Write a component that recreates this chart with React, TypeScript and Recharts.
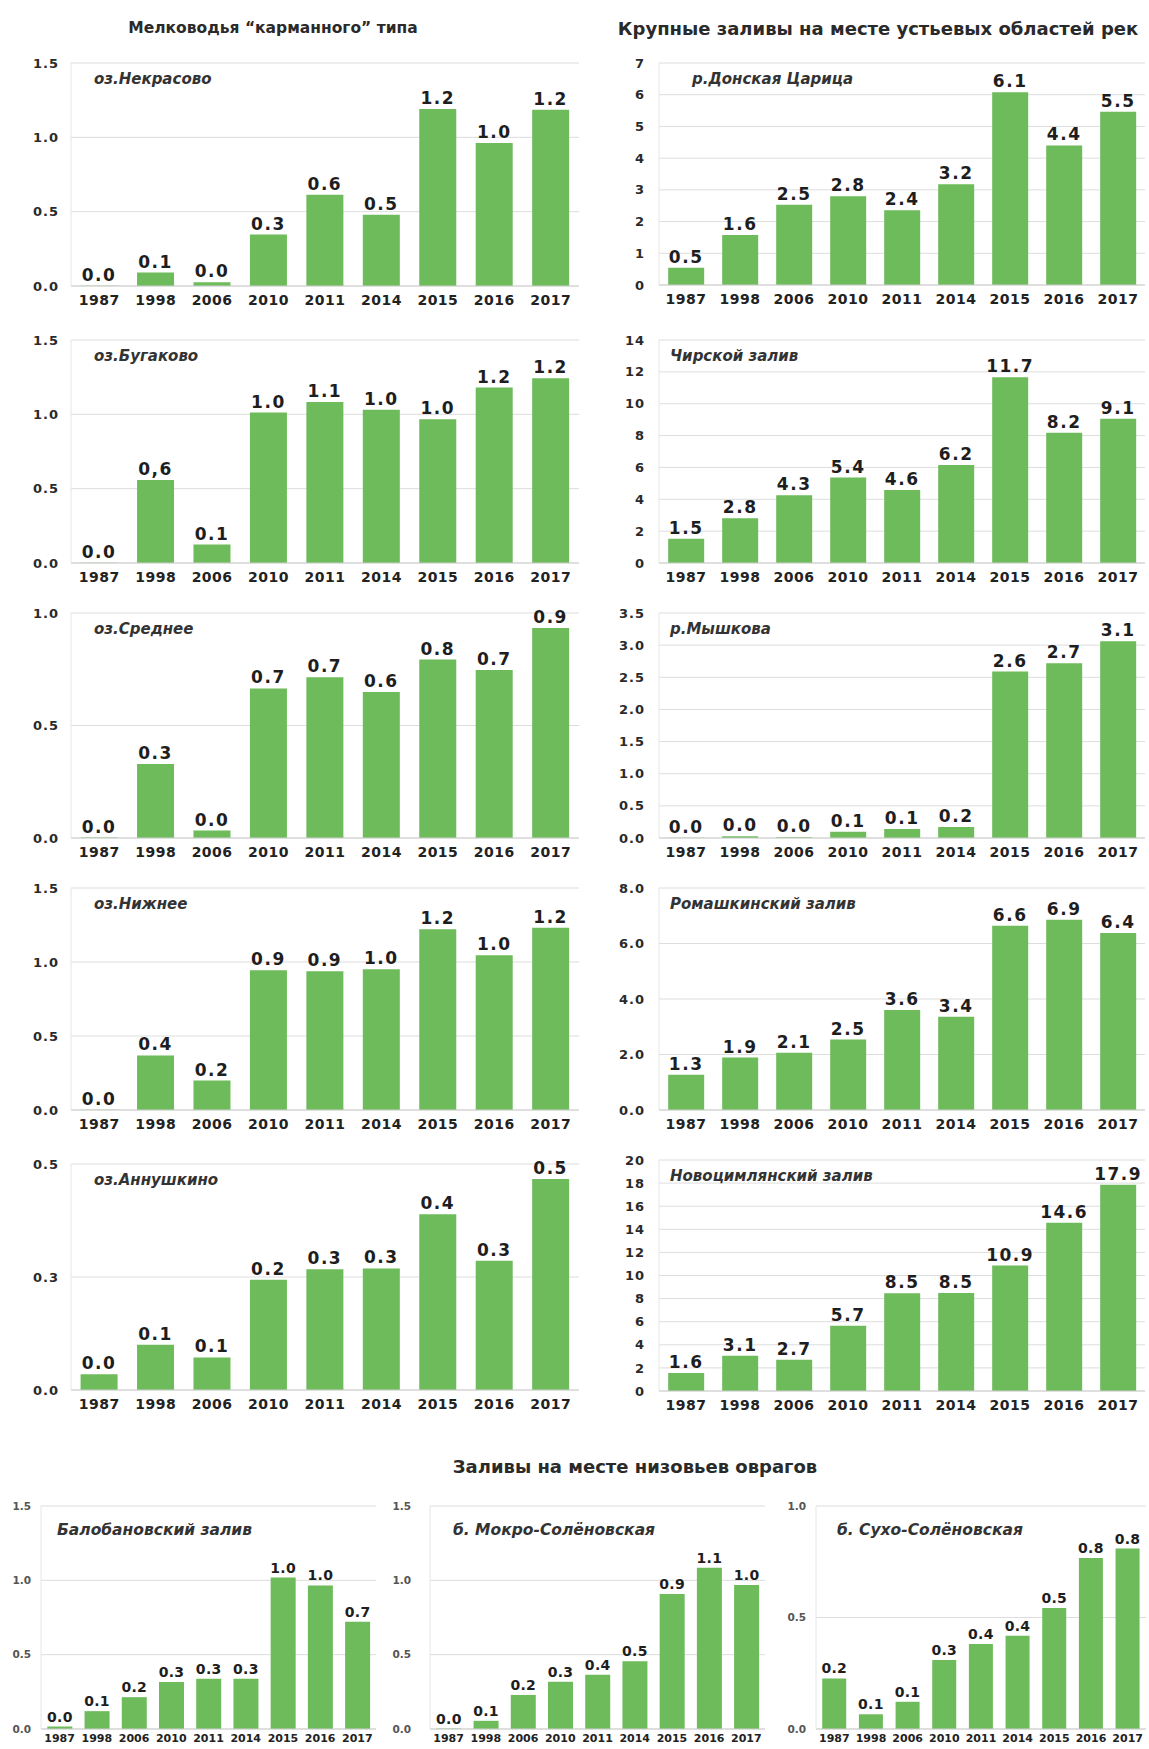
import React from 'react';
import { BarChart, Bar, XAxis, YAxis, CartesianGrid, LabelList } from 'recharts';

const YEARS = ['1987', '1998', '2006', '2010', '2011', '2014', '2015', '2016', '2017'];

// Мелководья "карманного" типа
const nekrasovo = [0.002, 0.09, 0.025, 0.346, 0.614, 0.48, 1.19, 0.962, 1.185];
const bugakovo = [0.002, 0.559, 0.124, 1.012, 1.083, 1.03, 0.967, 1.18, 1.243];
const bugakovoLabels = ['0.0', '0,6', '0.1', '1.0', '1.1', '1.0', '1.0', '1.2', '1.2'];
const srednee = [0.002, 0.329, 0.033, 0.665, 0.714, 0.649, 0.793, 0.747, 0.933];
const nizhnee = [0.002, 0.369, 0.199, 0.945, 0.938, 0.951, 1.222, 1.045, 1.231];
const annushkino = [0.035, 0.1, 0.072, 0.244, 0.267, 0.269, 0.389, 0.286, 0.467];

// Крупные заливы на месте устьевых областей рек
const donskaya = [0.54, 1.58, 2.53, 2.8, 2.36, 3.18, 6.08, 4.4, 5.46];
const chirskoy = [1.52, 2.81, 4.26, 5.36, 4.58, 6.16, 11.66, 8.18, 9.06];
const myshkova = [0.004, 0.026, 0.01, 0.099, 0.14, 0.171, 2.59, 2.72, 3.06];
const romashkinsky = [1.27, 1.89, 2.06, 2.54, 3.6, 3.36, 6.64, 6.86, 6.38];
const novotsimlyansky = [1.56, 3.06, 2.7, 5.66, 8.46, 8.48, 10.86, 14.56, 17.86];

// Заливы на месте низовьев оврагов
const balobanovsky = [0.016, 0.12, 0.214, 0.316, 0.338, 0.338, 1.019, 0.966, 0.721];
const mokro = [0.003, 0.055, 0.229, 0.318, 0.365, 0.455, 0.908, 1.085, 0.969];
const sukho = [0.227, 0.066, 0.122, 0.309, 0.381, 0.418, 0.543, 0.767, 0.809];

// y-axis ticks
const ticks15 = [0, 0.5, 1, 1.5];
const ticks10 = [0, 0.5, 1];
const ticks05 = [0, 0.25, 0.5];
const ticks7 = [0, 1, 2, 3, 4, 5, 6, 7];
const ticks14 = [0, 2, 4, 6, 8, 10, 12, 14];
const ticks35 = [0, 0.5, 1, 1.5, 2, 2.5, 3, 3.5];
const ticks8 = [0, 2, 4, 6, 8];
const ticks20 = [0, 2, 4, 6, 8, 10, 12, 14, 16, 18, 20];

const GREEN = '#6dbb5a';
const FONT = '"DejaVu Sans", Verdana, sans-serif';

const TOPS = [63, 340, 613, 888, 1164];
const LEFT_X = 71;
const LEFT_W = 508;
const RIGHT_X = 659;
const RIGHT_W = 486;

type Panel = {
  name: string;
  values: number[];
  labels?: string[];
  ticks: number[];
  dec: number;
  x: number;
  y: number;
  w: number;
  h: number;
  small?: boolean;
  nameX: number;
  gap: number;
};

const panels: Panel[] = [
  { name: 'оз.Некрасово', values: nekrasovo, ticks: ticks15, dec: 1, x: LEFT_X, y: TOPS[0], w: LEFT_W, h: 223, nameX: 94, gap: 12 },
  { name: 'оз.Бугаково', values: bugakovo, labels: bugakovoLabels, ticks: ticks15, dec: 1, x: LEFT_X, y: TOPS[1], w: LEFT_W, h: 223, nameX: 94, gap: 12 },
  { name: 'оз.Среднее', values: srednee, ticks: ticks10, dec: 1, x: LEFT_X, y: TOPS[2], w: LEFT_W, h: 225, nameX: 94, gap: 12 },
  { name: 'оз.Нижнее', values: nizhnee, ticks: ticks15, dec: 1, x: LEFT_X, y: TOPS[3], w: LEFT_W, h: 222, nameX: 94, gap: 12 },
  { name: 'оз.Аннушкино', values: annushkino, ticks: ticks05, dec: 1, x: LEFT_X, y: TOPS[4], w: LEFT_W, h: 226, nameX: 94, gap: 12 },

  { name: 'р.Донская Царица', values: donskaya, ticks: ticks7, dec: 0, x: RIGHT_X, y: TOPS[0], w: RIGHT_W, h: 222, nameX: 692, gap: 14 },
  { name: 'Чирской залив', values: chirskoy, ticks: ticks14, dec: 0, x: RIGHT_X, y: TOPS[1], w: RIGHT_W, h: 223, nameX: 670, gap: 14 },
  { name: 'р.Мышкова', values: myshkova, ticks: ticks35, dec: 1, x: RIGHT_X, y: TOPS[2], w: RIGHT_W, h: 225, nameX: 670, gap: 14 },
  { name: 'Ромашкинский залив', values: romashkinsky, ticks: ticks8, dec: 1, x: RIGHT_X, y: TOPS[3], w: RIGHT_W, h: 222, nameX: 670, gap: 14 },
  { name: 'Новоцимлянский залив', values: novotsimlyansky, ticks: ticks20, dec: 0, x: RIGHT_X, y: 1160, w: RIGHT_W, h: 231, nameX: 670, gap: 14 },

  { name: 'Балобановский залив', values: balobanovsky, ticks: ticks15, dec: 1, x: 41, y: 1506, w: 335, h: 223, small: true, nameX: 57, gap: 10 },
  { name: 'б. Мокро-Солёновская', values: mokro, ticks: ticks15, dec: 1, x: 430, y: 1506, w: 335, h: 223, small: true, nameX: 453, gap: 19 },
  { name: 'б. Сухо-Солёновская', values: sukho, ticks: ticks10, dec: 1, x: 816, y: 1506, w: 330, h: 223, small: true, nameX: 837, gap: 10 },
];

function MiniChart({ p }: { p: Panel }) {
  const yw = p.small ? 40 : 70;
  const mt = 24;
  const xh = p.small ? 20 : 34;
  const mr = 2;
  const data = YEARS.map((year, i) => ({
    year,
    v: p.values[i],
    label: p.labels ? p.labels[i] : p.values[i].toFixed(1),
  }));
  const max = p.ticks[p.ticks.length - 1];

  const xTick = p.small
    ? { fill: '#222', fontSize: 11, fontWeight: 700, fontFamily: FONT }
    : { fill: '#222', fontSize: 14, fontWeight: 700, fontFamily: FONT, letterSpacing: 0.5 };
  const yTick = p.small
    ? { fill: '#555', fontSize: 10.5, fontWeight: 700, fontFamily: FONT }
    : { fill: '#2a2a2a', fontSize: 13, fontWeight: 700, fontFamily: FONT, letterSpacing: 1 };

  return (
    <div style={{ position: 'absolute', left: p.x - yw, top: p.y - mt }}>
      <BarChart
        width={yw + p.w + mr}
        height={mt + p.h + xh}
        data={data}
        margin={{ top: mt, right: mr, left: 0, bottom: 0 }}
        barCategoryGap="17%"
      >
        <CartesianGrid vertical={false} stroke="#dddddd" />
        <XAxis
          dataKey="year"
          interval={0}
          tickLine={false}
          tickSize={0}
          tickMargin={p.small ? 5 : 9}
          axisLine={{ stroke: '#cfcfcf' }}
          height={xh}
          tick={xTick}
        />
        <YAxis
          width={yw}
          domain={[0, max]}
          ticks={p.ticks}
          interval={0}
          allowDataOverflow
          tickLine={false}
          tickSize={0}
          tickMargin={p.gap}
          axisLine={{ stroke: '#e6e6e6' }}
          tickFormatter={(v: number) => v.toFixed(p.dec)}
          tick={yTick}
        />
        <Bar dataKey="v" fill={GREEN} isAnimationActive={false}>
          <LabelList
            dataKey="label"
            position="top"
            offset={5}
            fill="#1e1e1e"
            fontSize={p.small ? 14 : 17}
            fontWeight={700}
            fontFamily={FONT}
            letterSpacing={p.small ? 0.3 : 1.5}
          />
        </Bar>
      </BarChart>
      <div
        style={{
          position: 'absolute',
          left: p.nameX - (p.x - yw),
          top: mt + (p.small ? 24 : 16),
          transform: 'translateY(-50%)',
          fontFamily: FONT,
          fontWeight: 700,
          fontStyle: 'italic',
          fontSize: p.small ? 15.5 : 15,
          color: '#333',
          whiteSpace: 'nowrap',
        }}
      >
        {p.name}
      </div>
    </div>
  );
}

function Title({ text, cx, cy, size }: { text: string; cx: number; cy: number; size: number }) {
  return (
    <div
      style={{
        position: 'absolute',
        left: cx,
        top: cy,
        transform: 'translate(-50%, -50%)',
        fontFamily: FONT,
        fontWeight: 700,
        fontSize: size,
        color: '#2a2a2a',
        whiteSpace: 'nowrap',
      }}
    >
      {text}
    </div>
  );
}

export default function App() {
  return (
    <div
      style={{
        position: 'absolute',
        left: 0,
        top: 0,
        width: 1149,
        height: 1749,
        overflow: 'hidden',
        background: '#ffffff',
      }}
    >
      <Title text="Мелководья “карманного” типа" cx={273} cy={28} size={15.5} />
      <Title text="Крупные заливы на месте устьевых областей рек" cx={878} cy={28} size={18} />
      <Title text="Заливы на месте низовьев оврагов" cx={635} cy={1466} size={18} />
      {panels.map((p) => (
        <MiniChart key={p.name} p={p} />
      ))}
    </div>
  );
}
